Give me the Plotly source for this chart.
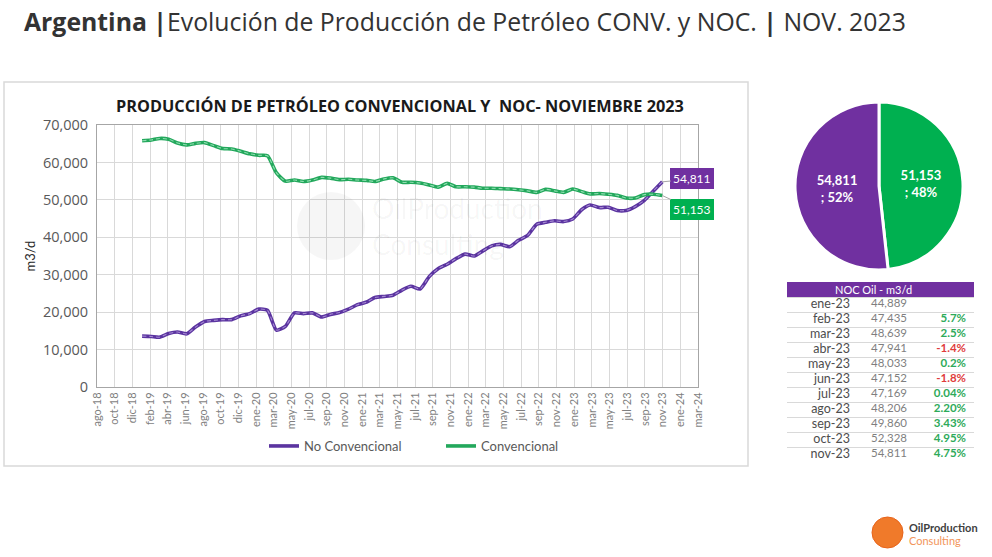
#!/usr/bin/env python3
"""
Argentina - producción de petróleo convencional vs no convencional (NOC).
Line chart + pie of last month + NOC 2023 table, written to out.html.
"""

import pandas as pd
import plotly.graph_objects as go

W, H = 992, 557

# ── Data ──────────────────────────────────────────────────────────────────────

FIRST_MONTH = "2019-01-01"
LAST_MONTH = "2023-11-01"
months = pd.date_range(FIRST_MONTH, LAST_MONTH, freq="MS")

# m3/d, ene-19 .. nov-23
no_convencional = [
    13600, 13500, 13300, 14300, 14700, 14200, 16000, 17500, 17800, 18000, 18000, 19000,
    19600, 20800, 20500, 15200, 16200, 19800, 19600, 19800, 18700, 19400, 19900, 20800,
    22000, 22700, 23900, 24200, 24500, 25900, 26900, 26200, 29500, 31600, 32800, 34300,
    35500, 35000, 36300, 37700, 38100, 37500, 39200, 40500, 43500, 44000, 44400, 44200,
    44889, 47435, 48639, 47941, 48033, 47152, 47169, 48206, 49860, 52328, 54811,
]
convencional = [
    65800, 66000, 66400, 66200, 65200, 64700, 65100, 65300, 64500, 63700, 63600, 63000,
    62300, 61900, 61800, 57200, 55000, 55300, 54900, 55300, 56000, 55800, 55400, 55500,
    55300, 55200, 54900, 55600, 55900, 54700, 54700, 54500, 54000, 53400, 54400, 53500,
    53500, 53400, 53100, 53100, 53000, 52900, 52700, 52400, 52000, 52800, 52400, 52000,
    52900, 52200, 51600, 51700, 51500, 51200, 50500, 50500, 51400, 51500, 51153,
]

x_tick_labels = [
    "ago-18", "oct-18", "dic-18", "feb-19", "abr-19", "jun-19", "ago-19", "oct-19",
    "dic-19", "ene-20", "mar-20", "may-20", "jul-20", "sep-20", "nov-20", "ene-21",
    "mar-21", "may-21", "jul-21", "sep-21", "nov-21", "ene-22", "mar-22", "may-22",
    "jul-22", "sep-22", "nov-22", "ene-23", "mar-23", "may-23", "jul-23", "sep-23",
    "nov-23", "ene-24", "mar-24",
]
AXIS_START, AXIS_END = "2018-08-01", "2024-03-01"

tabla_meses = [
    "ene-23", "feb-23", "mar-23", "abr-23", "may-23", "jun-23",
    "jul-23", "ago-23", "sep-23", "oct-23", "nov-23",
]
tabla_noc = [44889, 47435, 48639, 47941, 48033, 47152, 47169, 48206, 49860, 52328, 54811]
tabla_var = ["", "5.7%", "2.5%", "-1.4%", "0.2%", "-1.8%", "0.04%", "2.20%", "3.43%", "4.95%", "4.75%"]

# ── Styles ────────────────────────────────────────────────────────────────────

FONT = "Lato"
TITLE_FONT = "Open Sans"
PURPLE = "#5B34A0"
PURPLE_LIGHT = "#A68BD3"
GREEN = "#23A85C"
GREEN_LIGHT = "#8FDDB0"
PIE_PURPLE = "#7030A0"
PIE_GREEN = "#00B050"
GREY = "#595959"

# table geometry, in page pixels
TBL_LEFT, TBL_RIGHT = 787, 974
TBL_TOP, ROW_H = 282, 15
COL_RIGHT_EDGES = [850, 907, 966]


def px_x(p):
    return p / W


def px_y(p):
    return 1 - p / H


# ── Figure ────────────────────────────────────────────────────────────────────

fig = go.Figure()

series = [
    ("No Convencional", no_convencional, PURPLE, PURPLE_LIGHT),
    ("Convencional", convencional, GREEN, GREEN_LIGHT),
]
for name, values, col, col_light in series:
    fig.add_trace(
        go.Scatter(
            x=months, y=values, mode="lines", name=name, legendgroup=name,
            line=dict(color=col, width=3.6, shape="spline", smoothing=0.6),
        )
    )
    fig.add_trace(
        go.Scatter(
            x=months, y=values, mode="lines", name=name, legendgroup=name,
            showlegend=False, hoverinfo="skip",
            line=dict(color=col_light, width=1.1, dash="4px,3px", shape="spline", smoothing=0.6),
        )
    )

# pie of last month
fig.add_trace(
    go.Pie(
        values=[convencional[-1], no_convencional[-1]],
        labels=["Convencional", "No Convencional"],
        marker=dict(colors=[PIE_GREEN, PIE_PURPLE], line=dict(color="white", width=3)),
        sort=False, direction="clockwise", rotation=0,
        texttemplate="%{value:,}<br>; %{percent:.0%}",
        textposition="inside", insidetextorientation="horizontal",
        textfont=dict(family=FONT, size=13, color="white", weight="bold"),
        showlegend=False,
        domain=dict(x=[px_x(795), px_x(963)], y=[px_y(274), px_y(98)]),
    )
)

# NOC 2023 table, drawn as text on its own axes (row index on y2)
rows = list(range(len(tabla_meses)))
var_colors = ["#2EAA5A" if not v.startswith("-") else "#E03C3C" for v in tabla_var]
table_cols = [
    (tabla_meses, ["#4d4d4d"] * len(rows), 12.5),
    ([f"{v:,}" for v in tabla_noc], ["#7f7f7f"] * len(rows), 11.5),
    ([f"<b>{v}</b>" for v in tabla_var], var_colors, 11.5),
]
for (texts, colors, size), xr in zip(table_cols, COL_RIGHT_EDGES):
    fig.add_trace(
        go.Scatter(
            x=[xr] * len(rows), y=rows, xaxis="x2", yaxis="y2",
            mode="text", text=texts, textposition="middle left",
            textfont=dict(family=FONT, size=size, color=colors),
            showlegend=False, hoverinfo="skip", cliponaxis=False,
        )
    )

n_rows = len(rows)
tbl_bottom = TBL_TOP + ROW_H * (n_rows + 1)

fig.update_layout(
    width=W, height=H,
    margin=dict(l=0, r=0, t=0, b=0),
    paper_bgcolor="white", plot_bgcolor="white",
    font=dict(family=FONT, color=GREY),
    showlegend=True,
    legend=dict(
        orientation="h", x=px_x(264), xanchor="left", y=px_y(446), yanchor="middle",
        font=dict(family=FONT, size=13, color=GREY), entrywidth=132, entrywidthmode="pixels",
        bgcolor="rgba(0,0,0,0)", itemwidth=30,
    ),
    xaxis=dict(
        domain=[px_x(97), px_x(698)],
        type="date", range=[AXIS_START, AXIS_END],
        tickmode="array", tickvals=pd.date_range(AXIS_START, AXIS_END, periods=len(x_tick_labels)),
        ticktext=x_tick_labels,
        tickangle=-90, tickfont=dict(size=11, color="#7f7f7f"),
        showgrid=True, gridcolor="#d9d9d9", gridwidth=1,
        showline=True, linecolor="#a6a6a6", mirror=True, zeroline=False,
        automargin=False,
    ),
    yaxis=dict(
        domain=[px_y(387), px_y(125)],
        range=[0, 70000], dtick=10000, tickformat=",",
        tickfont=dict(family=TITLE_FONT, size=14.5, color=GREY), ticklabelstandoff=5,
        title=dict(text="m3/d", font=dict(size=13, color="#262626"), standoff=4),
        showgrid=True, gridcolor="#d9d9d9", gridwidth=1,
        showline=True, linecolor="#a6a6a6", mirror=True, zeroline=False,
        automargin=False,
    ),
    xaxis2=dict(
        domain=[px_x(TBL_LEFT), px_x(TBL_RIGHT)], range=[TBL_LEFT, TBL_RIGHT],
        visible=False, anchor="y2",
    ),
    yaxis2=dict(
        domain=[px_y(tbl_bottom), px_y(TBL_TOP)], range=[n_rows - 0.5, -1.5],
        anchor="x2", tickmode="array", tickvals=[r - 0.5 for r in range(n_rows + 1)],
        showticklabels=False, ticks="", showgrid=True, gridcolor="#d9d9d9", gridwidth=1,
        zeroline=False, showline=False,
    ),
)

shapes = [
    # table header bar
    dict(type="rect", xref="x2", yref="y2", x0=TBL_LEFT, x1=TBL_RIGHT, y0=-1.5, y1=-0.5,
         fillcolor=PIE_PURPLE, line=dict(width=0)),
    # chart panel border
    dict(type="rect", xref="paper", yref="paper", x0=px_x(4), x1=px_x(748),
         y0=px_y(466), y1=px_y(82), line=dict(color="#d9d9d9", width=1.5)),
    # faint watermark circle
    dict(type="circle", xref="paper", yref="paper", x0=px_x(297), x1=px_x(365),
         y0=px_y(260), y1=px_y(192), fillcolor="rgba(0,0,0,0.035)", line=dict(width=0)),
    # logo circle
    dict(type="circle", xref="paper", yref="paper", x0=px_x(872), x1=px_x(903),
         y0=px_y(548), y1=px_y(517), fillcolor="#F07A2A", line=dict(color="#E8631A", width=1)),
]
for s in shapes:
    fig.add_shape(**s)

fig.add_annotation(
    x=(TBL_LEFT + TBL_RIGHT) / 2 - 7, y=-1, xref="x2", yref="y2", showarrow=False,
    text="NOC Oil - m3/d", font=dict(family=FONT, size=11, color="white"),
)

# end labels
for values, col, ay in [(no_convencional, PIE_PURPLE, -3), (convencional, PIE_GREEN, 14)]:
    fig.add_annotation(
        x=months[-1], y=values[-1], xref="x", yref="y",
        text=f"{values[-1]:,}", showarrow=True, arrowhead=0, arrowwidth=1,
        arrowcolor="#a6a6a6", ax=30, ay=ay,
        bgcolor=col, bordercolor=col, borderpad=2,
        font=dict(family=FONT, size=12, color="white"),
    )

fig.add_annotation(
    x=px_x(22), y=px_y(21), xref="paper", yref="paper", xanchor="left", yanchor="middle",
    showarrow=False,
    text="<b>Argentina |</b>Evolución de Producción de Petróleo CONV. y NOC. <b>|</b> NOV. 2023",
    font=dict(family=TITLE_FONT, size=24.8, color="#333333"),
)
fig.add_annotation(
    x=px_x(400), y=px_y(106), xref="paper", yref="paper", xanchor="center", yanchor="middle",
    showarrow=False, text="<b>PRODUCCIÓN DE PETRÓLEO CONVENCIONAL Y  NOC- NOVIEMBRE 2023</b>",
    font=dict(family=TITLE_FONT, size=16.3, color="#1a1a1a"),
)
fig.add_annotation(
    x=px_x(370), y=px_y(226), xref="paper", yref="paper", xanchor="left", yanchor="middle",
    showarrow=False, text="OilProduction<br>Consulting", align="left",
    font=dict(family=FONT, size=28, color="rgba(0,0,0,0.045)"),
)
fig.add_annotation(
    x=px_x(907), y=px_y(527), xref="paper", yref="paper", xanchor="left", yanchor="middle",
    showarrow=False, text="<b>OilProduction</b>",
    font=dict(family=FONT, size=11, color="#404040"),
)
fig.add_annotation(
    x=px_x(907), y=px_y(540), xref="paper", yref="paper", xanchor="left", yanchor="middle",
    showarrow=False, text="Consulting",
    font=dict(family=FONT, size=11, color="#F2955A"),
)

# the page's default body margin would shift the figure by 8px
fig.write_html(
    "out.html",
    config={"displayModeBar": False},
    post_script="document.body.style.margin='0';",
)
